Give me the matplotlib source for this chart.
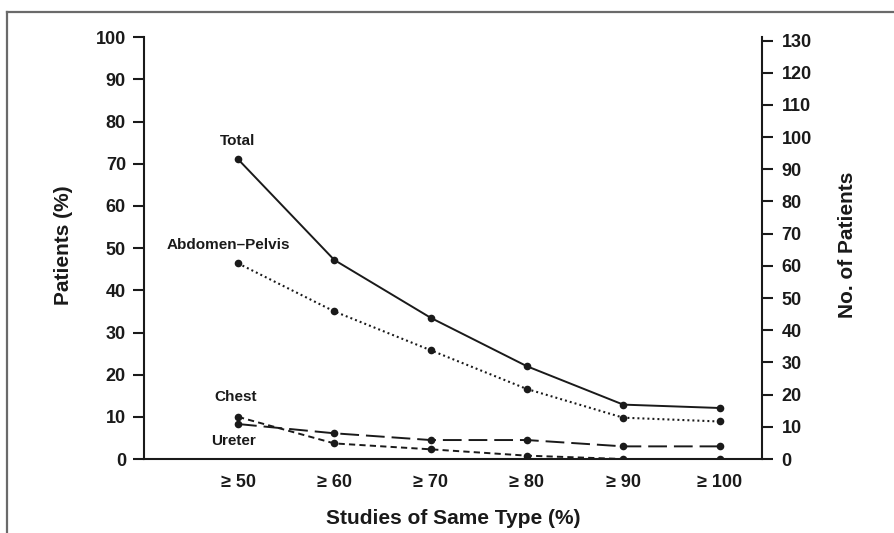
import matplotlib
matplotlib.use("Agg")
import matplotlib.pyplot as plt
from matplotlib.lines import Line2D
from matplotlib import font_manager

# ---- data ----
categories = ["\u2265 50", "\u2265 60", "\u2265 70", "\u2265 80", "\u2265 90", "\u2265 100"]
total = [71.1, 47.2, 33.5, 22.0, 12.9, 12.1]
abdomen_pelvis = [46.4, 35.0, 25.8, 16.6, 9.8, 8.9]
chest = [10.0, 3.7, 2.3, 0.8, 0.0, 0.0]
ureter = [8.3, 6.1, 4.5, 4.5, 3.0, 3.0]
left_ticks = list(range(0, 101, 10))
right_ticks = list(range(0, 131, 10))

plt.rcParams['lines.scale_dashes'] = False
names = {f.name for f in font_manager.fontManager.ttflist}
base = 'Liberation Sans' if 'Liberation Sans' in names else 'DejaVu Sans'
narrow = 'Liberation Sans Narrow' if 'Liberation Sans Narrow' in names else base
ann_size = 12 if narrow != base else 11
plt.rcParams['font.family'] = [base, 'DejaVu Sans']
plt.rcParams['font.weight'] = 'bold'

fig = plt.figure(figsize=(8.95, 5.33), dpi=100)
ax = fig.add_axes([0.1609, 0.1388, 0.6905, 0.7912])
ax2 = ax.twinx()

x = list(range(len(categories)))
ink = '#1a1a1a'
mk = dict(marker='o', markersize=5.5, color=ink, markerfacecolor=ink, markeredgewidth=0)
ax.plot(x, total, linestyle='-', linewidth=1.4, **mk)
ax.plot(x, abdomen_pelvis, linestyle=(0, (1.4, 2.2)), linewidth=1.5, **mk)
ax.plot(x, chest, linestyle=(0, (4.5, 3.0)), linewidth=1.4, **mk)
ax.plot(x, ureter, linestyle=(0, (13.5, 5.0)), linewidth=1.4, **mk)

ax.set_xlim(-0.976, 5.441)
ax.set_ylim(0, 100)
ax2.set_ylim(0, 131)
ax.set_yticks(left_ticks)
ax2.set_yticks(right_ticks)
ax.set_xticks(x)
ax.set_xticklabels(categories)

for a in (ax, ax2):
    for s in a.spines.values():
        s.set_visible(False)
        s.set_linewidth(1.5)
        s.set_color(ink)
ax.spines['left'].set_visible(True)
ax.spines['bottom'].set_visible(True)
ax2.spines['right'].set_visible(True)

ax.tick_params(axis='y', direction='out', length=8, width=1.5, color=ink,
               labelsize=13, pad=5, labelcolor=ink)
ax2.tick_params(axis='y', direction='out', length=8, width=1.5, color=ink,
                labelsize=13, pad=6, labelcolor=ink)
ax.tick_params(axis='x', length=0, labelsize=13, pad=10.5, labelcolor=ink)
for lab in ax.get_xticklabels() + ax.get_yticklabels() + ax2.get_yticklabels():
    lab.set_fontweight('bold')

ax.set_ylabel("Patients (%)", fontsize=15, fontweight='bold', color=ink)
ax.yaxis.set_label_coords(-0.1149, 0.507)
ax2.set_ylabel("No. of Patients", fontsize=15, fontweight='bold', color=ink)
ax2.yaxis.set_label_coords(1.123, 0.507)
ax.set_xlabel("Studies of Same Type (%)", fontsize=15, fontweight='bold', color=ink)
ax.xaxis.set_label_coords(0.5, -0.1186)

ann = dict(textcoords='offset points', ha='center', va='center', fontsize=ann_size,
           fontweight='bold', color=ink, family=[narrow, base, 'DejaVu Sans'])
ax.annotate("Total", xy=(x[0], total[0]), xytext=(0, 13), **ann)
ax.annotate("Abdomen\u2013Pelvis", xy=(x[0], abdomen_pelvis[0]), xytext=(-7, 13), **ann)
ax.annotate("Chest", xy=(x[0], chest[0]), xytext=(-2, 14.5), **ann)
ax.annotate("Ureter", xy=(x[0], ureter[0]), xytext=(-3.5, -12.5), **ann)

# outer frame (partially visible)
frame_c = '#6a6a6a'
fig.add_artist(Line2D([7/895, 7/895], [0, 1 - 12/533], transform=fig.transFigure,
                      color=frame_c, linewidth=1.6))
fig.add_artist(Line2D([7/895, 1], [1 - 12/533, 1 - 12/533], transform=fig.transFigure,
                      color=frame_c, linewidth=1.6))

fig.savefig("out.png", dpi=100, facecolor='white')
